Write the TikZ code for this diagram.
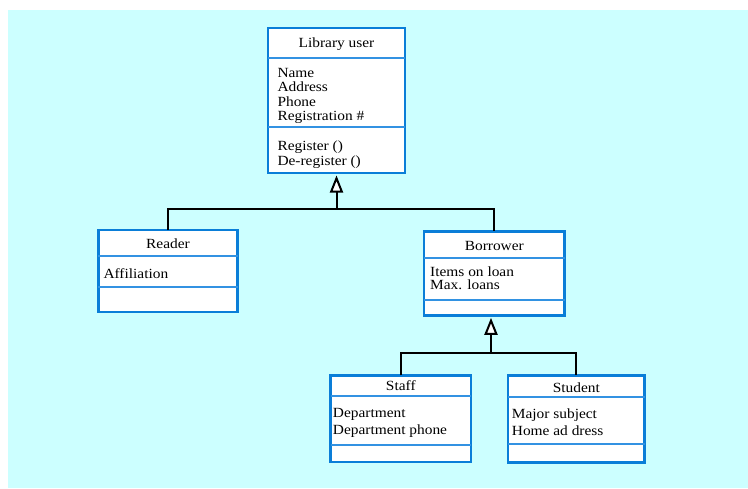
\documentclass[tikz,border=0pt]{standalone}
\usepackage{fontspec}
\usetikzlibrary{arrows.meta}
\newfontfamily\umlfont{Liberation Serif}[FakeStretch=1.1]
\definecolor{bgcyan}{RGB}{204,255,255}
\definecolor{umlblue}{RGB}{10,126,216}
\definecolor{umlbluelight}{RGB}{50,146,226}
\tikzset{
  umlbox/.style={draw=umlblue, line width=2.6pt, fill=white, rectangle,
    inner sep=0pt, outer sep=0pt},
  divider/.style={draw=umlbluelight, line width=2pt},
  titletext/.style={font=\umlfont\fontsize{14}{14}\selectfont, inner sep=0pt, anchor=base},
  attrtext/.style={font=\umlfont\fontsize{14}{14.2}\selectfont, inner sep=0pt,
    anchor=north west, align=left},
  inherit/.style={draw=black, line width=2pt},
  inheritarrow/.style={inherit, -{Triangle[fill=white, length=17pt, width=13pt]}, shorten >=2.5pt},
}
\begin{document}
\begin{tikzpicture}[x=1pt, y=-1pt]
  \useasboundingbox (0,0) rectangle (748,488);
  \fill[bgcyan] (8,10) rectangle (748,488);

  % class boxes
  \node[umlbox, minimum width=137pt, minimum height=145pt] (libuser) at (336.5,100.5) {};
  \node[umlbox, minimum width=139.4pt, minimum height=82pt] (reader) at (168,271) {};
  \node[umlbox, minimum width=140.7pt, minimum height=84pt] (borrower) at (494.3,273.3) {};
  \node[umlbox, minimum width=140.3pt, minimum height=86.7pt] (staff) at (400.8,418.7) {};
  \node[umlbox, minimum width=136.7pt, minimum height=87.4pt] (student) at (576.3,419) {};

  % compartment dividers
  \draw[divider] (libuser.west |- 0,57.7) -- (libuser.east |- 0,57.7);
  \draw[divider] (libuser.west |- 0,127) -- (libuser.east |- 0,127);
  \draw[divider] (reader.west |- 0,256) -- (reader.east |- 0,256);
  \draw[divider] (reader.west |- 0,287.3) -- (reader.east |- 0,287.3);
  \draw[divider] (borrower.west |- 0,258) -- (borrower.east |- 0,258);
  \draw[divider] (borrower.west |- 0,300) -- (borrower.east |- 0,300);
  \draw[divider] (staff.west |- 0,395.7) -- (staff.east |- 0,395.7);
  \draw[divider] (staff.west |- 0,444.7) -- (staff.east |- 0,444.7);
  \draw[divider] (student.west |- 0,397.3) -- (student.east |- 0,397.3);
  \draw[divider] (student.west |- 0,444.3) -- (student.east |- 0,444.3);

  % class names
  \node[titletext] (libuser-name) at (libuser.north |- 0,47.3) {Library user};
  \node[titletext] (reader-name) at (reader.north |- 0,248.3) {Reader};
  \node[titletext] (borrower-name) at (borrower.north |- 0,250) {Borrower};
  \node[titletext] (staff-name) at (staff.north |- 0,390.7) {Staff};
  \node[titletext] (student-name) at (student.north |- 0,392.3) {Student};

  % attributes and operations
  \node[attrtext] (libuser-attr) at (277.3,68.3) {Name\\Address\\Phone\\Registration \#};
  \node[attrtext, font=\umlfont\fontsize{14}{15}\selectfont] (libuser-ops) at (277.3,140.7) {Register ()\\De-register ()};
  \node[attrtext] (reader-attr) at (103.3,268.3) {Affiliation};
  \node[attrtext, font=\umlfont\fontsize{14}{12.6}\selectfont] (borrower-attr) at (430,266.7) {Items on loan\\Max. loans};
  \node[attrtext, font=\umlfont\fontsize{14}{17.3}\selectfont] (staff-attr) at (332.7,408.3) {Department\\Department phone};
  \node[attrtext, font=\umlfont\fontsize{14}{17.3}\selectfont] (student-attr) at (511.7,408.3) {Major subject\\Home ad dress};

  % generalisation: Reader, Borrower -> Library user
  \coordinate (j1) at (libuser.south |- 0,209.3);
  \draw[inherit] (reader.north) |- (j1) -| (borrower.north);
  \draw[inheritarrow] (j1) -- (libuser.south);

  % generalisation: Staff, Student -> Borrower
  \coordinate (j2) at (491,353);
  \draw[inherit] (staff.north) |- (j2) -| (student.north);
  \draw[inheritarrow] (j2) -- (j2 |- borrower.south);
\end{tikzpicture}
\end{document}
